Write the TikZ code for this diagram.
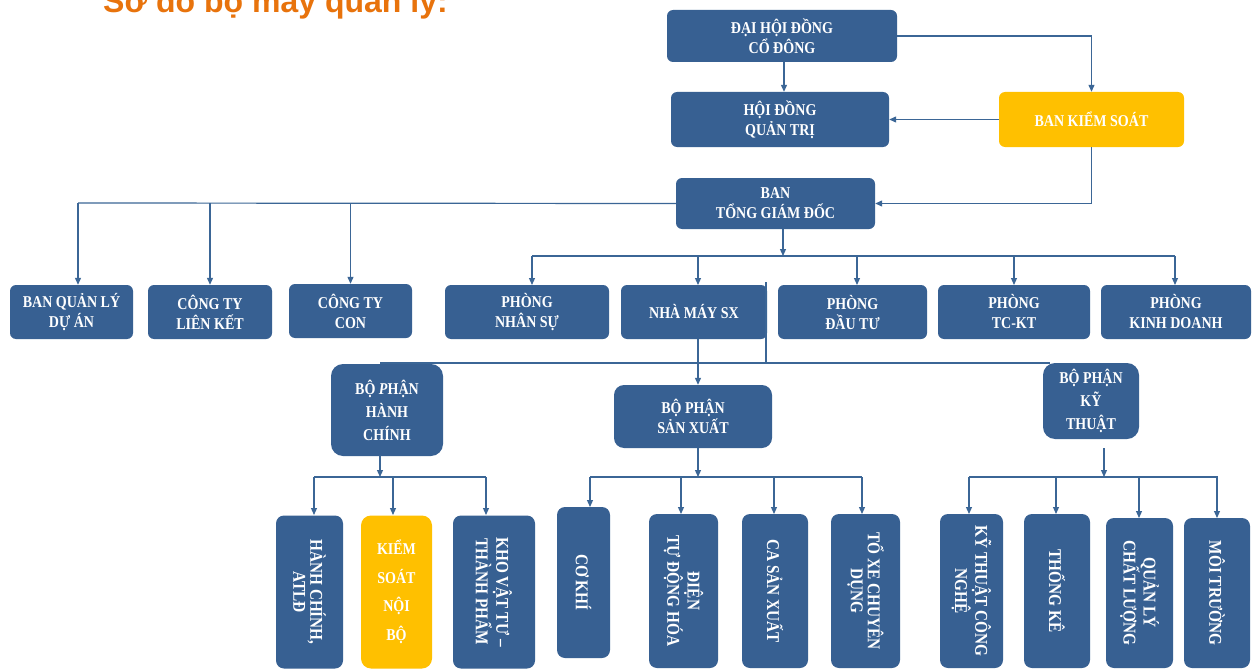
\documentclass[tikz,border=0pt]{standalone}
\usepackage{fontspec}
\newfontfamily\boxfont[FakeStretch=0.85]{Liberation Serif}
\newfontfamily\titlefont{Liberation Sans}
\usetikzlibrary{arrows.meta,calc}
\definecolor{boxblue}{HTML}{376092}
\definecolor{boxyellow}{HTML}{FFC000}
\definecolor{lineblue}{HTML}{3B6696}
\definecolor{titleorange}{HTML}{E8730C}
\begin{document}
\begin{tikzpicture}[x=1pt,y=-1pt,
  box/.style={fill=boxblue, rounded corners=6pt, text=white, align=center, inner sep=0pt,
    font=\boxfont\bfseries\fontsize{16.5}{20}\selectfont},
  ybox/.style={box, fill=boxyellow},
  vbox/.style={box, rotate=-90, rounded corners=8pt, font=\boxfont\bfseries\fontsize{18}{17}\selectfont},
  arr/.style={draw=lineblue, line width=1.2pt, -{Triangle[length=7pt,width=6pt]}},
  ln/.style={draw=lineblue, line width=1.2pt}]
\useasboundingbox (0,0) rectangle (1254,669);
\fill[white] (0,0) rectangle (1254,669);
\clip (0,0) rectangle (1254,669);

% title
\node[anchor=base west, inner sep=0pt, text=titleorange,
  font=\titlefont\bfseries\fontsize{32}{32}\selectfont] (title) at (103,13) {Sơ đồ bộ máy quản lý:};

% top level
\node[box, minimum width=230, minimum height=52] (dhd) at (782,36) {ĐẠI HỘI ĐỒNG\\CỔ ĐÔNG};
\node[box, minimum width=218, minimum height=55] (hdqt) at (780,119.5) {HỘI ĐỒNG\\QUẢN TRỊ};
\node[ybox, minimum width=185, minimum height=55] (bks) at (1091.5,119.5) {BAN KIỂM SOÁT};
\node[box, minimum width=199, minimum height=51] (tgd) at (775.5,203.5) {BAN\\TỔNG GIÁM ĐỐC};

% row 2
\node[box, minimum width=123, minimum height=54] (bql) at (71.5,312) {BAN QUẢN LÝ\\DỰ ÁN};
\node[box, minimum width=124, minimum height=54] (ctlk) at (210,312) {CÔNG TY\\LIÊN KẾT};
\node[box, minimum width=123, minimum height=54] (ctc) at (350.5,311) {CÔNG TY\\CON};
\node[box, minimum width=164, minimum height=54] (pns) at (527,312) {PHÒNG\\NHÂN SỰ};
\node[box, minimum width=146, minimum height=54] (nm) at (694,312) {NHÀ MÁY SX};
\node[box, minimum width=149, minimum height=54] (pdt) at (852.5,312) {PHÒNG\\ĐẦU TƯ};
\node[box, minimum width=152, minimum height=54] (ptc) at (1014,312) {PHÒNG\\TC-KT};
\node[box, minimum width=150, minimum height=54] (pkd) at (1176,312) {PHÒNG\\KINH DOANH};

% row 3
\node[box, rounded corners=12pt, minimum width=112, minimum height=92, font=\boxfont\bfseries\fontsize{16.5}{23}\selectfont] (bphc) at (387,410) {BỘ \textit{P}HẬN\\HÀNH\\CHÍNH};
\node[box, rounded corners=10pt, minimum width=158, minimum height=63] (bpsx) at (693,416.5) {BỘ PHẬN\\SẢN XUẤT};
\node[box, rounded corners=12pt, minimum width=96, minimum height=76, font=\boxfont\bfseries\fontsize{16.5}{23}\selectfont] (bpkt) at (1091,401) {BỘ PHẬN\\KỸ\\THUẬT};

% row 4
\node[vbox, minimum width=153, minimum height=67] (hc) at (309.5,592) {HÀNH CHÍNH,\\ATLĐ};
\node[ybox, rounded corners=10pt, minimum width=71, minimum height=153, font=\boxfont\bfseries\fontsize{16.5}{28.5}\selectfont] (ksnb) at (396.5,592) {KIỂM\\SOÁT\\NỘI\\BỘ};
\node[vbox, minimum width=153, minimum height=82] (kho) at (494,592) {KHO VẬT TƯ –\\THÀNH PHẨM};
\node[vbox, minimum width=151, minimum height=53] (ck) at (583.5,582.5) {CƠ KHÍ};
\node[vbox, minimum width=154, minimum height=69] (dien) at (683.5,591) {ĐIỆN\\TỰ ĐỘNG HÓA};
\node[vbox, minimum width=154, minimum height=66] (ca) at (775,591) {CA SẢN XUẤT};
\node[vbox, minimum width=154, minimum height=69] (toxe) at (865.5,591) {TỔ XE CHUYÊN\\DỤNG};
\node[vbox, minimum width=154, minimum height=63] (kt) at (971.5,591) {KỸ THUẬT CÔNG\\NGHỆ};
\node[vbox, minimum width=154, minimum height=66] (tk) at (1057,591) {THỐNG KÊ};
\node[vbox, minimum width=150, minimum height=67] (ql) at (1139.5,593) {QUẢN LÝ\\CHẤT LƯỢNG};
\node[vbox, minimum width=150, minimum height=66] (mt) at (1217,593) {MÔI TRƯỜNG};

% coordinates
\coordinate (dhdo) at (784,62);
\coordinate (tgdo) at (783,229);
\coordinate (busA) at (783,256);
\coordinate (leftbus) at (78,203);
\coordinate (nmo) at (698,339);
\coordinate (nmr) at (766,282);
\coordinate (midbus) at (766,363);
\coordinate (hco) at (380,455);
\coordinate (hcbus) at (380,477);
\coordinate (sxo) at (698,448);
\coordinate (sxbus) at (698,477);
\coordinate (kto) at (1104,448);
\coordinate (ktbus) at (1104,477);

% top connectors
\draw[arr] (dhdo) -- (dhdo |- hdqt.north);
\draw[arr] (dhd.east) -| (bks.north);
\draw[arr] (bks.west) -- (hdqt.east);
\draw[arr] (bks.south) |- (tgd.east);

% left branch
\draw[ln] (tgd.west) -- (leftbus);
\draw[arr] (leftbus) -- (leftbus |- bql.north);
\draw[arr] (ctlk.north |- leftbus) -- (ctlk.north);
\draw[arr] (ctc.north |- leftbus) -- (ctc.north);

% departments bus
\draw[arr] (tgdo) -- (busA);
\draw[ln] (532,256) -- (1175,256);
\draw[arr] (532,256) -- (532,285);
\draw[arr] (698,256) -- (698,285);
\draw[arr] (857,256) -- (857,285);
\draw[arr] (1014,256) -- (1014,285);
\draw[arr] (1175,256) -- (1175,285);

% factory
\draw[arr] (nmo) -- (nmo |- bpsx.north);
\draw[ln] (nmr) -- (midbus);
\draw[ln] (380,363) -- (1050,363);

% groups
\draw[arr] (hco) -- (hcbus);
\draw[ln] (314,477) -- (486,477);
\draw[arr] (314,477) -- (314,515);
\draw[arr] (393,477) -- (393,515);
\draw[arr] (486,477) -- (486,515);

\draw[arr] (sxo) -- (sxbus);
\draw[ln] (590,477) -- (862,477);
\draw[arr] (590,477) -- (590,507);
\draw[arr] (681,477) -- (681,514);
\draw[arr] (774,477) -- (774,514);
\draw[arr] (862,477) -- (862,514);

\draw[arr] (kto) -- (ktbus);
\draw[ln] (969,477) -- (1218,477);
\draw[arr] (969,477) -- (969,514);
\draw[arr] (1056,477) -- (1056,514);
\draw[arr] (1139,477) -- (1139,518);
\draw[arr] (1217,477) -- (1217,518);
\end{tikzpicture}
\end{document}
